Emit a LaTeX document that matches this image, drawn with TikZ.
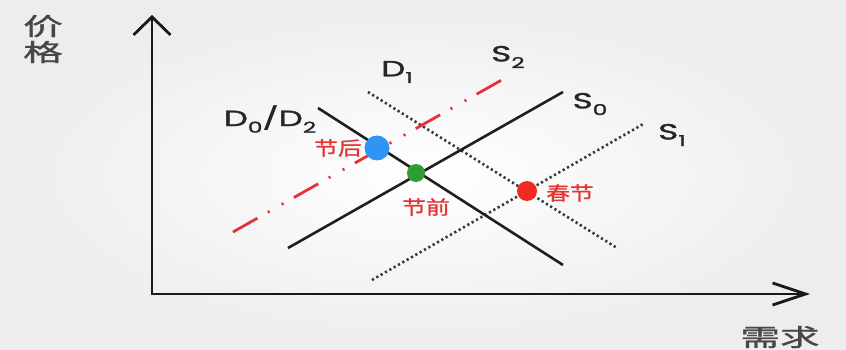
\documentclass[tikz,border=0pt]{standalone}
\usepackage{fontspec}
\setmainfont{Poppins}
\newfontfamily\lblfont{Poppins}[FakeBold=1.2]
\newfontfamily\cjk{Noto Sans CJK SC}
\newfontfamily\cjkb{Noto Sans CJK SC}[FakeBold=1]
\usetikzlibrary{arrows.meta}
\newcommand\lsub[1]{\raisebox{-0.3em}{\fontsize{15}{15}\selectfont #1}}
\definecolor{bgedge}{HTML}{EDEDED}
\definecolor{redline}{HTML}{E8303A}
\definecolor{redtext}{HTML}{E53333}
\definecolor{bluept}{HTML}{2E95F5}
\definecolor{greenpt}{HTML}{2E9E32}
\definecolor{redpt}{HTML}{F02A20}
\begin{document}
\begin{tikzpicture}[x=1pt,y=-1pt,
  axisline/.style={line width=2.8pt, black!90},
  solidcurve/.style={line width=2.6pt, black!88},
  dotcurve/.style={line width=2.6pt, black!78, dash pattern=on 2.2pt off 2.8pt},
  redcurve/.style={line width=2.8pt, redline, dash pattern=on 28pt off 12pt on 2pt off 14pt on 2pt off 12pt},
  lbl/.style={font=\lblfont\fontsize{22}{22}\selectfont, text=black!85, inner sep=0pt, xscale=1.55},
  axlbl/.style={font=\cjkb\fontsize{24}{26}\selectfont, text=black!72, inner sep=0pt, xscale=1.65, align=center},
  redlbl/.style={font=\cjkb\fontsize{19}{19}\selectfont, text=redtext, inner sep=0pt, xscale=1.25},
  ptmark/.style={circle, inner sep=0pt, draw=none}
]
\shade[inner color=white, outer color=bgedge] (0,0) rectangle (846,350);
\useasboundingbox (0,0) rectangle (846,350);

% axes
\coordinate (ytop) at (152,15);
\coordinate (orig) at (152,294);
\coordinate (xend) at (810,294);
\draw[axisline, {Straight Barb[length=18pt,width=37pt]}-{Straight Barb[length=33pt,width=22pt]}] (ytop) -- (orig) -- (xend);

% curve end points
\coordinate (d0a) at (318,108);  \coordinate (d0b) at (563,265);
\coordinate (d1a) at (368,92);   \coordinate (d1b) at (617,248);
\coordinate (s0a) at (288,248);  \coordinate (s0b) at (563,92);
\coordinate (s1a) at (372,280);  \coordinate (s1b) at (645,123);
\coordinate (s2a) at (233,232);  \coordinate (s2b) at (507,77);

\draw[dotcurve] (d1a) -- (d1b);
\draw[dotcurve] (s1a) -- (s1b);
\draw[redcurve] (s2a) -- (s2b);
\draw[solidcurve] (d0a) -- (d0b);
\draw[solidcurve] (s0a) -- (s0b);

% points
\node[ptmark, fill=bluept, minimum width=25pt, minimum height=21pt] (after) at (377,148) {};
\node[ptmark, fill=greenpt, minimum size=18pt] (before) at (416,173) {};
\node[ptmark, fill=redpt, minimum width=20pt, minimum height=18pt] (fest) at (527,191) {};

% labels
\node[redlbl] (tafter) at (338,148) {节后};
\node[redlbl] (tbefore) at (426,207) {节前};
\node[redlbl] (tfest) at (570,193) {春节};

\node[lbl] (ld0) at (270,119) {D\lsub{0}/D\lsub{2}};
\node[lbl] (ld1) at (397,72) {D\lsub{1}};
\node[lbl] (ls2) at (508,57) {S\lsub{2}};
\node[lbl] (ls0) at (590,104) {S\lsub{0}};
\node[lbl] (ls1) at (672,135) {S\lsub{1}};

\node[axlbl] (price) at (43,39) {价\\格};
\node[axlbl] (demand) at (780,337) {需求};
\end{tikzpicture}
\end{document}
